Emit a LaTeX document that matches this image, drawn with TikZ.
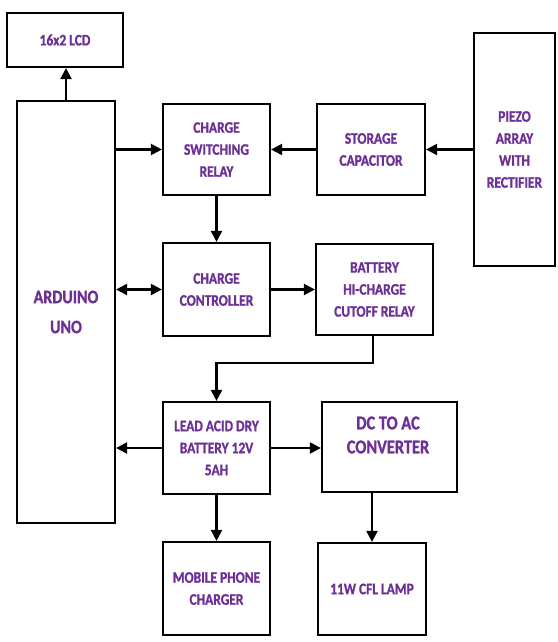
\documentclass[tikz,border=0pt]{standalone}
\usepackage{fontspec}
\setmainfont{Carlito}[FakeStretch=0.84,BoldFeatures={FakeBold=1.2}]
\usetikzlibrary{arrows.meta}
\definecolor{txtpurple}{RGB}{108,48,150}
\begin{document}
\begin{tikzpicture}[x=1pt,y=-1pt,
  blk/.style={draw=black,line width=2.2pt,fill=white,align=center,inner sep=0pt,
    text=txtpurple,font=\bfseries\fontsize{16}{22}\selectfont},
  arr/.style={line width=2.2pt,-{Triangle[length=11pt,width=11pt]}},
  darr/.style={line width=2.2pt,{Triangle[length=11pt,width=11pt]}-{Triangle[length=11pt,width=11pt]}}]
\useasboundingbox (0,0) rectangle (557,642);
\node[blk,minimum width=116,minimum height=54] (lcd) at (65,40) {16x2 LCD};
\node[blk,minimum width=98,minimum height=422,font=\bfseries\fontsize{19}{30}\selectfont] (ard) at (66,312) {ARDUINO\\UNO};
\node[blk,minimum width=107,minimum height=91] (csr) at (216.5,149.5) {CHARGE\\SWITCHING\\RELAY};
\node[blk,minimum width=108,minimum height=91] (sc) at (371,149.5) {STORAGE\\CAPACITOR};
\node[blk,minimum width=81,minimum height=233] (pz) at (514.5,149.5) {PIEZO\\ARRAY\\WITH\\RECTIFIER};
\node[blk,minimum width=107,minimum height=93] (cc) at (216.5,289.5) {CHARGE\\CONTROLLER};
\node[blk,minimum width=117,minimum height=91] (bhc) at (374.5,289.5) {BATTERY\\HI-CHARGE\\CUTOFF RELAY};
\node[blk,minimum width=107,minimum height=92] (lad) at (216.5,448) {LEAD ACID DRY\\BATTERY 12V\\5AH};
\node[blk,minimum width=135,minimum height=90] (dc) at (389.5,447) {};
\node[text=txtpurple,align=center,inner sep=0pt,font=\bfseries\fontsize{19.5}{24}\selectfont] (dct) at (388,435) {DC TO AC\\CONVERTER};
\node[blk,minimum width=107,minimum height=93] (mpc) at (216.5,588.5) {MOBILE PHONE\\CHARGER};
\node[blk,minimum width=108,minimum height=92] (cfl) at (372,589) {11W CFL LAMP};
\coordinate (bend) at (373,363);
\draw[arr] (ard.north) -- (ard.north |- lcd.south);
\draw[arr] (ard.east |- csr) -- (csr.west);
\draw[arr] (pz.west |- sc) -- (sc.east);
\draw[arr] (sc.west) -- (csr.east);
\draw[arr] (csr.south) -- (cc.north);
\draw[darr] (ard.east |- cc) -- (cc.west);
\draw[arr] (cc.east) -- (bhc.west |- cc);
\draw[arr] (bend |- bhc.south) -- (bend) -| (lad.north);
\draw[arr] (lad.west) -- (ard.east |- lad);
\draw[arr] (lad.east) -- (dc.west |- lad);
\draw[arr] (lad.south) -- (mpc.north);
\draw[arr] (dc.south -| cfl) -- (cfl.north);
\end{tikzpicture}
\end{document}
